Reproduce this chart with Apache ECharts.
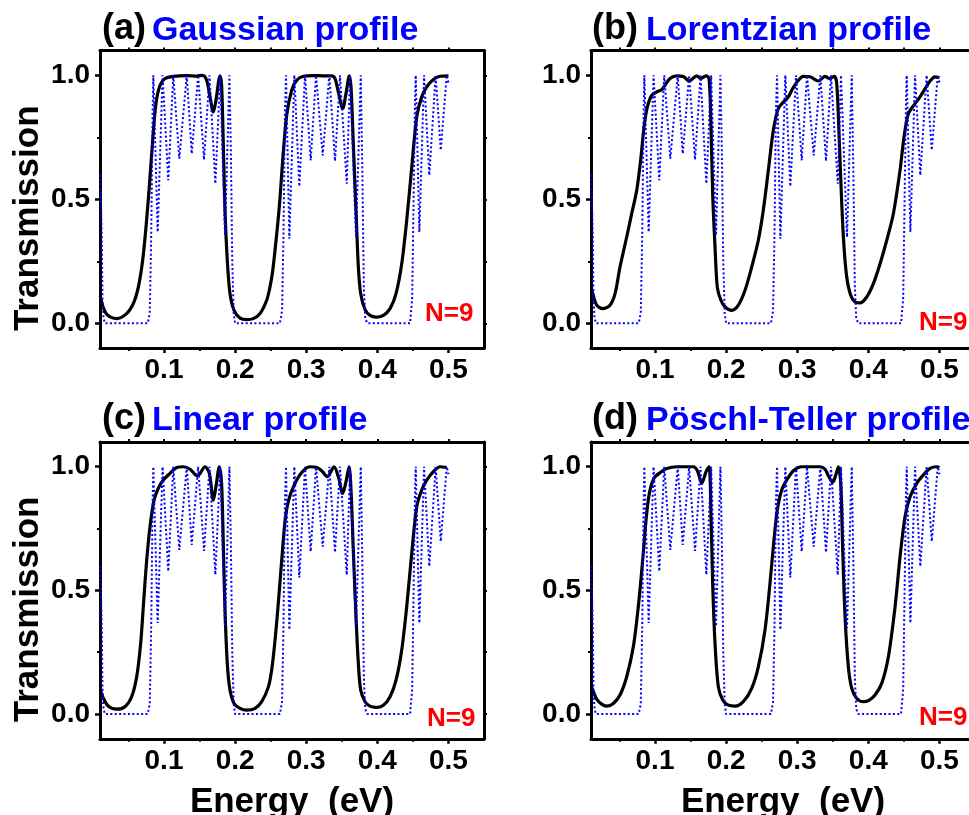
<!DOCTYPE html>
<html>
<head>
<meta charset="utf-8">
<script src="https://cdn.jsdelivr.net/npm/echarts@6/dist/echarts.min.js"></script>
<style>
  html, body { margin: 0; padding: 0; background: #fff; }
  #chart { width: 969px; height: 815px; }
</style>
</head>
<body>
<div id="chart"></div>
<script>
// Periodic superlattice reference (dotted blue), same in every panel
const refE = [0.0105, 0.0125, 0.0135, 0.015, 0.017, 0.077, 0.080, 0.082, 0.084, 0.085,
  0.0911, 0.098, 0.106, 0.113, 0.1215, 0.132, 0.139, 0.148, 0.1563, 0.164,
  0.1722, 0.179, 0.1858, 0.192, 0.194, 0.196, 0.198, 0.200,
  0.263, 0.266, 0.268, 0.270, 0.2716,
  0.2763, 0.2833, 0.2903, 0.2983, 0.3063, 0.3138, 0.3232, 0.3325, 0.3405, 0.3475,
  0.357, 0.3616, 0.370, 0.3767, 0.379, 0.381, 0.383, 0.386,
  0.446, 0.449, 0.451, 0.453, 0.454,
  0.4591, 0.4657, 0.4731, 0.482, 0.4892, 0.4976, 0.500];
const refT = [0.60, 0.35, 0.10, 0.02, 0.0, 0.0, 0.04, 0.35, 0.85, 1.0,
  0.368, 1.0, 0.577, 1.0, 0.664, 1.0, 0.684, 1.0, 0.660, 1.0,
  0.563, 1.0, 0.355, 1.0, 0.70, 0.25, 0.04, 0.0,
  0.0, 0.05, 0.35, 0.85, 1.0,
  0.341, 1.0, 0.552, 1.0, 0.657, 1.0, 0.677, 1.0, 0.654, 1.0,
  0.563, 1.0, 0.348, 1.0, 0.60, 0.15, 0.02, 0.0,
  0.0, 0.10, 0.50, 0.90, 1.0,
  0.368, 1.0, 0.597, 1.0, 0.698, 1.0, 0.97];

// (a) Gaussian profile
const gaussE = [0.0105, 0.0138, 0.020, 0.0335, 0.0475, 0.0568, 0.0639, 0.070, 0.0747, 0.0793,
  0.0841, 0.0887, 0.0944, 0.1014, 0.113, 0.132, 0.146, 0.1544, 0.160, 0.1647,
  0.1694, 0.1731, 0.1788, 0.181, 0.1834, 0.1858, 0.189, 0.1928, 0.1985, 0.207,
  0.2163, 0.2256, 0.235, 0.2444, 0.249, 0.2528, 0.2585, 0.263, 0.2675, 0.2726,
  0.2796, 0.2866, 0.296, 0.310, 0.324, 0.3358, 0.3405, 0.3451, 0.3513, 0.356,
  0.3606, 0.363, 0.3662, 0.370, 0.3733, 0.3766, 0.3827, 0.3897, 0.398, 0.4085,
  0.4179, 0.4263, 0.4343, 0.4413, 0.4484, 0.4554, 0.4624, 0.4695, 0.4788, 0.4882, 0.500];
const gaussT = [0.11, 0.07, 0.035, 0.019, 0.039, 0.079, 0.146, 0.254, 0.388, 0.55,
  0.738, 0.886, 0.96, 0.987, 0.996, 0.999, 0.997, 1.0, 0.98, 0.913,
  0.852, 0.90, 0.998, 0.96, 0.725, 0.456, 0.254, 0.12, 0.052, 0.021,
  0.015, 0.019, 0.039, 0.093, 0.146, 0.21, 0.36, 0.50, 0.68, 0.84,
  0.94, 0.98, 0.996, 0.999, 0.998, 0.998, 0.987, 0.933, 0.866, 0.927,
  0.998, 0.953, 0.725, 0.456, 0.227, 0.12, 0.055, 0.032, 0.025, 0.032,
  0.059, 0.12, 0.24, 0.415, 0.63, 0.832, 0.913, 0.953, 0.983, 0.996, 0.998];

// (b) Lorentzian profile
const lorE = [0.0105, 0.0124, 0.018, 0.0265, 0.0367, 0.0438, 0.0508, 0.0602, 0.0672, 0.0743,
  0.0803, 0.0845, 0.0892, 0.0954, 0.1024, 0.1094, 0.1141, 0.1211, 0.1305, 0.1398,
  0.1483, 0.1587, 0.1643, 0.1718, 0.176, 0.1788, 0.1811, 0.1844, 0.1876, 0.1924,
  0.1985, 0.2079, 0.2172, 0.2266, 0.236, 0.2453, 0.2523, 0.2594, 0.2664, 0.2734,
  0.2805, 0.2875, 0.2936, 0.3016, 0.3086, 0.318, 0.3297, 0.3391, 0.3452, 0.3522,
  0.3556, 0.3593, 0.3626, 0.3658, 0.3696, 0.3752, 0.3813, 0.3883, 0.3977, 0.4071,
  0.4165, 0.4259, 0.4352, 0.4446, 0.4502, 0.4563, 0.4657, 0.4727, 0.4798, 0.4868, 0.4938, 0.500];
const lorT = [0.14, 0.12, 0.073, 0.059, 0.073, 0.12, 0.227, 0.348, 0.442, 0.536,
  0.67, 0.79, 0.872, 0.919, 0.933, 0.942, 0.96, 0.987, 0.998, 0.995,
  0.977, 0.998, 0.987, 0.998, 0.987, 0.79, 0.523, 0.308, 0.146, 0.095,
  0.066, 0.052, 0.073, 0.133, 0.227, 0.335, 0.456, 0.617, 0.778, 0.866,
  0.892, 0.913, 0.946, 0.98, 0.996, 0.994, 0.977, 0.996, 0.987, 0.996,
  0.965, 0.725, 0.483, 0.308, 0.187, 0.113, 0.086, 0.082, 0.106, 0.16,
  0.24, 0.335, 0.442, 0.617, 0.751, 0.845, 0.886, 0.913, 0.946, 0.977, 0.994, 0.99];

// (c) Linear profile
const linE = [0.0105, 0.0138, 0.0217, 0.0335, 0.0451, 0.0545, 0.0616, 0.0672, 0.0709, 0.0757,
  0.0803, 0.086, 0.092, 0.099, 0.1084, 0.1179, 0.1271, 0.1366, 0.1469, 0.1577,
  0.1638, 0.1694, 0.1731, 0.1778, 0.181, 0.1834, 0.1858, 0.189, 0.1928, 0.1985,
  0.207, 0.2163, 0.228, 0.2374, 0.2468, 0.2515, 0.2562, 0.2608, 0.2655, 0.2702,
  0.2758, 0.2866, 0.296, 0.3053, 0.3147, 0.3217, 0.3297, 0.3391, 0.3451, 0.3513,
  0.356, 0.3602, 0.363, 0.3662, 0.370, 0.3733, 0.3766, 0.3827, 0.3897, 0.398,
  0.4085, 0.4179, 0.4263, 0.4343, 0.4413, 0.4484, 0.4554, 0.4624, 0.4695, 0.4788, 0.4882, 0.4976];
const linT = [0.10, 0.07, 0.032, 0.02, 0.03, 0.07, 0.151, 0.286, 0.434, 0.623,
  0.757, 0.865, 0.913, 0.946, 0.973, 0.997, 1.0, 0.99, 0.962, 1.0,
  0.973, 0.865, 0.92, 1.0, 0.93, 0.69, 0.42, 0.205, 0.097, 0.043,
  0.023, 0.016, 0.023, 0.05, 0.11, 0.18, 0.30, 0.45, 0.62, 0.78,
  0.87, 0.946, 0.984, 1.0, 0.997, 0.984, 0.96, 1.0, 0.96, 0.892,
  0.94, 1.0, 0.906, 0.663, 0.393, 0.205, 0.097, 0.05, 0.032, 0.027,
  0.036, 0.07, 0.137, 0.259, 0.434, 0.65, 0.838, 0.906, 0.946, 0.98, 1.0, 0.997];

// (d) Pöschl-Teller profile
const ptE = [0.0105, 0.0124, 0.018, 0.025, 0.0321, 0.0414, 0.0508, 0.0602, 0.0695, 0.0765,
  0.0827, 0.0874, 0.092, 0.0986, 0.1071, 0.1165, 0.1305, 0.1446, 0.1539, 0.1596,
  0.1657, 0.1718, 0.176, 0.1788, 0.1811, 0.1844, 0.1891, 0.1952, 0.2031, 0.2125,
  0.2242, 0.236, 0.2453, 0.2547, 0.2617, 0.2673, 0.272, 0.2782, 0.2852, 0.2946,
  0.3063, 0.3321, 0.3391, 0.3438, 0.3499, 0.3546, 0.3579, 0.3612, 0.364, 0.3673,
  0.3719, 0.3767, 0.3837, 0.3931, 0.4001, 0.4094, 0.4188, 0.4282, 0.4376, 0.4446,
  0.4516, 0.4587, 0.4681, 0.4775, 0.4868, 0.4962, 0.500];
const ptT = [0.11, 0.097, 0.06, 0.04, 0.032, 0.043, 0.077, 0.151, 0.272, 0.434,
  0.623, 0.784, 0.892, 0.953, 0.976, 0.993, 1.0, 1.0, 1.0, 0.984,
  0.933, 0.98, 1.0, 0.798, 0.528, 0.286, 0.11, 0.057, 0.036, 0.032,
  0.05, 0.104, 0.191, 0.34, 0.528, 0.704, 0.825, 0.906, 0.946, 0.984,
  1.0, 1.0, 0.99, 0.963, 0.937, 0.97, 1.0, 0.933, 0.663, 0.393,
  0.191, 0.104, 0.063, 0.05, 0.054, 0.077, 0.124, 0.232, 0.434, 0.636,
  0.798, 0.879, 0.933, 0.967, 0.993, 1.0, 0.997];

// Tick positions and labels
const xMajor = [0.1, 0.2, 0.3, 0.4, 0.5];
const xMinor = [0.05, 0.15, 0.25, 0.35, 0.45];
const xTop = [0.05, 0.1, 0.15, 0.2, 0.25, 0.3, 0.35, 0.4, 0.45, 0.5];
const yMajor = [0, 0.5, 1.0];
const yMinor = [0.25, 0.75];
const yRight = [0, 0.25, 0.5, 0.75, 1.0];

const panelLetters = ['(a)', '(b)', '(c)', '(d)'];
const panelNames = ['Gaussian profile', 'Lorentzian profile', 'Linear profile', 'Pöschl-Teller profile'];
const panelCurves = [[gaussE, gaussT], [lorE, lorT], [linE, linT], [ptE, ptT]];
const sizeLabel = 'N=9';
const xTitle = 'Energy  (eV)';
const yTitle = 'Transmission';

const X_MIN = 0.01, X_MAX = 0.55, Y_MIN = -0.1, Y_MAX = 1.1;
const FONT = "'Liberation Sans', Arial, Helvetica, sans-serif";

const layout = [
  { left: 100, top: 50.5, width: 384, height: 297.6, letterX: 102, titleY: 11, nameX: 152, nx: 425, ny: 301, yName: true, xName: false },
  { left: 591, top: 50.5, width: 384, height: 297.6, letterX: 592, titleY: 11, nameX: 646, nx: 919, ny: 310, yName: false, xName: false },
  { left: 100, top: 442, width: 384, height: 296.8, letterX: 102, titleY: 401, nameX: 152, nx: 427, ny: 706, yName: true, xName: true },
  { left: 591, top: 442, width: 384, height: 296.8, letterX: 592, titleY: 401, nameX: 646, nx: 919, ny: 705, yName: false, xName: true }
];

const pairs = (E, T) => E.map((e, i) => [e, T[i]]);
const black = '#000';
const grids = [], xAxes = [], yAxes = [], series = [], titles = [], graphics = [];

layout.forEach((L, i) => {
  const rect = { left: L.left, top: L.top, width: L.width, height: L.height, outerBoundsMode: 'none' };
  const gm = grids.length; grids.push(Object.assign({}, rect));
  const go = grids.length; grids.push(Object.assign({}, rect));

  const xm = xAxes.length;
  xAxes.push({
    gridIndex: gm, type: 'value', min: X_MIN, max: X_MAX, position: 'bottom',
    axisLine: { onZero: false, lineStyle: { color: black, width: 3 } },
    axisTick: { customValues: xMajor, length: 5, lineStyle: { color: black, width: 2.5 } },
    axisLabel: { customValues: xMajor, formatter: v => v.toFixed(1), color: black, fontSize: 28,
      fontWeight: 'bold', fontFamily: FONT, margin: 8 },
    splitLine: { show: false },
    name: L.xName ? xTitle : '', nameLocation: 'middle', nameGap: 46,
    nameTextStyle: { color: black, fontSize: 35, fontWeight: 'bold', fontFamily: FONT }
  });
  xAxes.push({
    gridIndex: go, type: 'value', min: X_MIN, max: X_MAX, position: 'top',
    axisLine: { onZero: false, lineStyle: { color: black, width: 3 } },
    axisTick: { customValues: xTop, length: 3, lineStyle: { color: black, width: 2 } },
    axisLabel: { show: false }, splitLine: { show: false }
  });
  xAxes.push({
    gridIndex: go, type: 'value', min: X_MIN, max: X_MAX, position: 'bottom',
    axisLine: { show: false, onZero: false },
    axisTick: { customValues: xMinor, length: 3, lineStyle: { color: black, width: 2 } },
    axisLabel: { show: false }, splitLine: { show: false }
  });

  const ym = yAxes.length;
  yAxes.push({
    gridIndex: gm, type: 'value', min: Y_MIN, max: Y_MAX, position: 'left',
    axisLine: { onZero: false, lineStyle: { color: black, width: 3 } },
    axisTick: { customValues: yMajor, length: 5, lineStyle: { color: black, width: 2.5 } },
    axisLabel: { customValues: yMajor, formatter: v => v.toFixed(1), color: black, fontSize: 28,
      fontWeight: 'bold', fontFamily: FONT, margin: 10 },
    splitLine: { show: false }
  });
  yAxes.push({
    gridIndex: go, type: 'value', min: Y_MIN, max: Y_MAX, position: 'right',
    axisLine: { onZero: false, lineStyle: { color: black, width: 3 } },
    axisTick: { customValues: yRight, length: 3, lineStyle: { color: black, width: 2 } },
    axisLabel: { show: false }, splitLine: { show: false }
  });
  yAxes.push({
    gridIndex: go, type: 'value', min: Y_MIN, max: Y_MAX, position: 'left',
    axisLine: { show: false, onZero: false },
    axisTick: { customValues: yMinor, length: 3, lineStyle: { color: black, width: 2 } },
    axisLabel: { show: false }, splitLine: { show: false }
  });

  const [E, T] = panelCurves[i];
  series.push({
    type: 'line', name: panelNames[i], xAxisIndex: xm, yAxisIndex: ym,
    data: pairs(E, T), showSymbol: false, smooth: 0.3,
    lineStyle: { color: black, width: 3.2, join: 'round' }, z: 3, silent: true
  });
  series.push({
    type: 'line', name: 'periodic', xAxisIndex: xm, yAxisIndex: ym,
    data: pairs(refE, refT), showSymbol: false,
    lineStyle: { color: '#0000ff', width: 2, type: [2, 2.4] }, z: 4, silent: true
  });

  titles.push({ text: panelLetters[i], left: L.letterX, top: L.titleY, padding: 0,
    textStyle: { color: black, fontSize: 36, fontWeight: 'bold', fontFamily: FONT } });
  titles.push({ text: panelNames[i], left: L.nameX, top: L.titleY + 3, padding: 0,
    textStyle: { color: '#0000ff', fontSize: 34, fontWeight: 'bold', fontFamily: FONT } });
  titles.push({ text: sizeLabel, left: L.nx, top: L.ny, padding: 0,
    textStyle: { color: '#ff0000', fontSize: 26, fontWeight: 'bold', fontFamily: FONT } });

  if (L.yName) {
    graphics.push({
      type: 'text', x: 28, y: L.top + L.height / 2 + 19, rotation: Math.PI / 2,
      style: { text: yTitle, fill: black, font: "bold 35px " + FONT, textAlign: 'center', textVerticalAlign: 'middle' }
    });
  }
});

const chart = echarts.init(document.getElementById('chart'));
chart.setOption({
  animation: false,
  backgroundColor: '#fff',
  title: titles,
  grid: grids,
  xAxis: xAxes,
  yAxis: yAxes,
  series: series,
  graphic: graphics
});
</script>
</body>
</html>
